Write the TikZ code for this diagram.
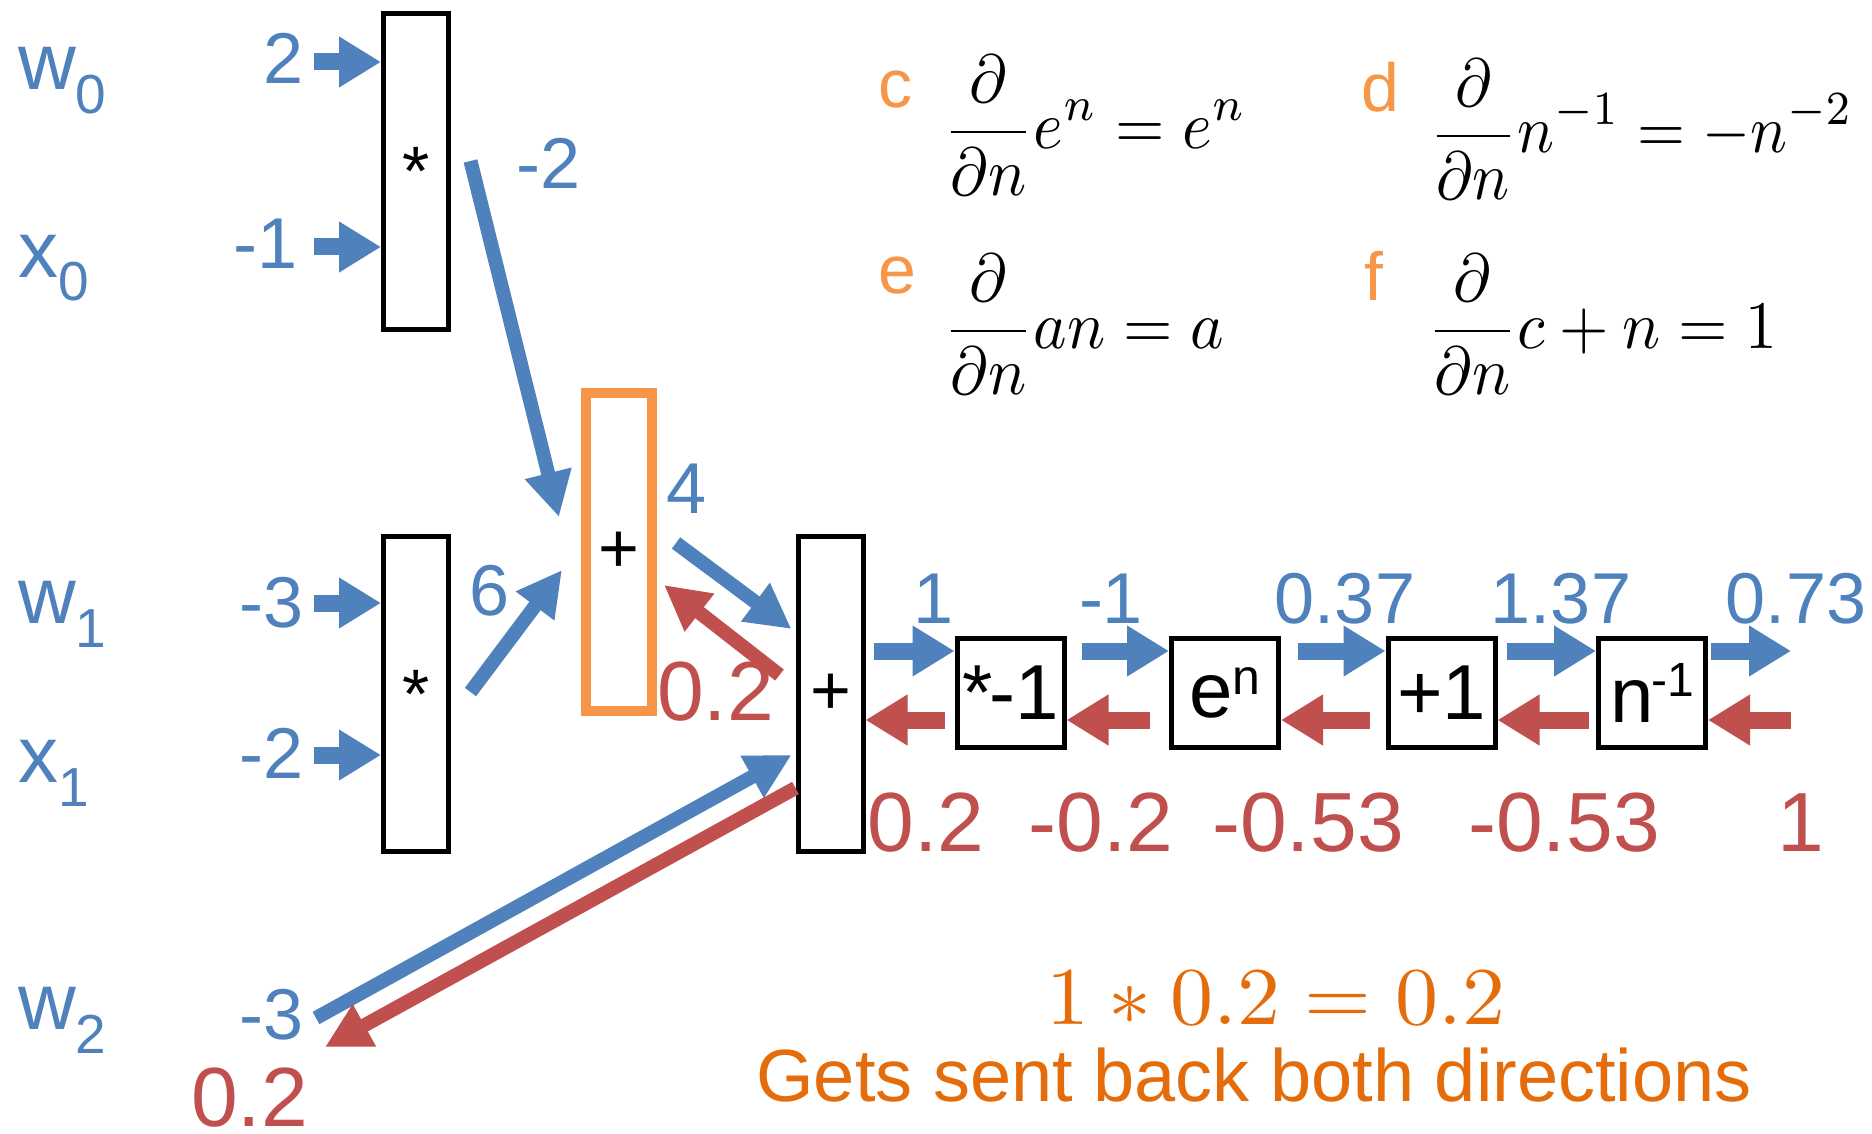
\documentclass[tikz,border=0pt]{standalone}
\usepackage[no-math]{fontspec}
\setmainfont{Liberation Sans}
\usetikzlibrary{arrows.meta,calc}
\definecolor{vblue}{HTML}{4F81BD}
\definecolor{vred}{HTML}{C0504D}
\definecolor{vorange}{HTML}{F79646}
\definecolor{dorange}{HTML}{E46C0A}
\newcommand{\fs}[1]{\fontsize{#1}{#1}\selectfont}
\newcommand{\varlab}[2]{\fs{80}#1\raisebox{-24pt}{\fs{55}#2}}
\begin{document}
\begin{tikzpicture}[x=1pt,y=-1pt,
  opbox/.style={draw=black,line width=5pt,fill=white,inner sep=0pt,font=\fs{70}},
  tallbox/.style={opbox,minimum width=65pt,minimum height=315pt},
  chainbox/.style={opbox,minimum width=107pt,minimum height=109pt,font=\fs{78}},
  fwd/.style={draw=vblue,line width=17pt,-{Triangle[length=42pt,width=48pt]}},
  bwd/.style={draw=vred,line width=17pt,-{Triangle[length=42pt,width=48pt]}},
  dfwd/.style={draw=vblue,line width=14pt,-{Triangle[length=45pt,width=45pt]}},
  dbwd/.style={draw=vred,line width=14pt,-{Triangle[length=45pt,width=45pt]}},
  bval/.style={text=vblue,font=\fs{72},inner sep=0pt},
  rval/.style={text=vred,font=\fs{84},inner sep=0pt},
  var/.style={text=vblue,inner sep=0pt},
  letter/.style={text=vorange,font=\fs{68},inner sep=0pt,anchor=base west},
  formula/.style={text=black,font=\fs{10},inner sep=0pt,anchor=base west,xscale=6.35,yscale=6.8}
]
\useasboundingbox[fill=white] (0,0) rectangle (1872,1134);

% variable names
\node[var,anchor=base west] (w0) at (18,90) {\varlab{w}{0}};
\node[var,anchor=base west] (x0) at (18,277) {\varlab{x}{0}};
\node[var,anchor=base west] (w1) at (18,623) {\varlab{w}{1}};
\node[var,anchor=base west] (x1) at (18,782) {\varlab{x}{1}};
\node[var,anchor=base west] (w2) at (18,1029) {\varlab{w}{2}};

% operation boxes
\node[tallbox] (m0) at (416,171.5) {*};
\node[tallbox] (m1) at (416,694) {*};
\node[tallbox,draw=vorange,line width=10pt,minimum width=66pt,minimum height=318pt] (a0) at (619,552) {+};
\node[tallbox] (a1) at (830.5,694) {+};
\node[chainbox] (neg) at (1010.5,693) {*\kern-0.05em-1};
\node[chainbox] (ex) at (1225,693) {e\raisebox{0.3em}{\fs{50}n}};
\node[chainbox] (p1) at (1441.5,693) {+1};
\node[chainbox] (inv) at (1652,693) {n\kern-0.03em\raisebox{0.33em}{\fs{48}-1}};

% input value labels
\node[bval,anchor=base east] (v2) at (304,84) {2};
\node[bval,anchor=base east] (vm1) at (298,269) {-1};
\node[bval,anchor=base east] (vm3) at (304,627) {-3};
\node[bval,anchor=base east] (vm2) at (304,778) {-2};
\node[bval,anchor=base east] (vm3b) at (304,1039) {-3};
\node[rval,anchor=base west] (g02b) at (191,1126) {0.2};

% input arrows
\coordinate (i0) at (314,62);
\coordinate (i1) at (314,247);
\coordinate (i2) at (314,603);
\coordinate (i3) at (314,755);
\draw[fwd] (i0) -- (i0 -| m0.west);
\draw[fwd] (i1) -- (i1 -| m0.west);
\draw[fwd] (i2) -- (i2 -| m1.west);
\draw[fwd] (i3) -- (i3 -| m1.west);

% diagonal arrows
\draw[dfwd] ($(m0.east)+(19.5,-10.5)$) -- ($(a0.west)+(-22,-35)$);
\draw[dfwd] ($(m1.east)+(19.5,-2)$) -- ($(a0.west)+(-19,18)$);
\draw[dfwd] ($(a0.east)+(19,-9)$) -- ($(a1.west)+(-4,-65)$);
\draw[dbwd] ($(a1.west)+(-16,-19)$) -- ($(a0.east)+(7,33)$);
\coordinate (w2s) at (316,1018);
\coordinate (w2e) at (325,1047);
\draw[dfwd] (w2s) -- ($(a1.west)+(-4,61)$);
\draw[dbwd] ($(a1.west)+(0,94)$) -- (w2e);

\node[bval,anchor=base west] (lm2) at (516,189) {-2};
\node[bval,anchor=base west] (l6) at (469,615) {6};
\node[bval,anchor=base west] (l4) at (666,513) {4};
\node[rval,anchor=base west] (l02) at (657,720) {0.2};

% chain arrows
\coordinate (outf) at (1791,651);
\coordinate (outb) at (1791,720);
\draw[fwd] ($(a1.east |- 0,651)+(8,0)$) -- (neg.west |- 0,651);
\draw[fwd] ($(neg.east |- 0,651)+(15,0)$) -- (ex.west |- 0,651);
\draw[fwd] ($(ex.east |- 0,651)+(17,0)$) -- (p1.west |- 0,651);
\draw[fwd] ($(p1.east |- 0,651)+(9,0)$) -- (inv.west |- 0,651);
\draw[fwd] ($(inv.east |- 0,651)+(3,0)$) -- (outf);
\draw[bwd] (outb) -- (inv.east |- 0,720);
\draw[bwd] ($(inv.west |- 0,720)+(-7,0)$) -- (p1.east |- 0,720);
\draw[bwd] ($(p1.west |- 0,720)+(-16,0)$) -- (ex.east |- 0,720);
\draw[bwd] ($(ex.west |- 0,720)+(-19,0)$) -- (neg.east |- 0,720);
\draw[bwd] ($(neg.west |- 0,720)+(-10,0)$) -- (a1.east |- 0,720);

% chain labels
\node[bval,anchor=base] (c1) at (934,623) {1};
\node[bval,anchor=base] (c2) at (1111,623) {-1};
\node[bval,anchor=base] (c3) at (1345,623) {0.37};
\node[bval,anchor=base] (c4) at (1561,623) {1.37};
\node[bval,anchor=base] (c5) at (1796,623) {0.73};
\node[rval,anchor=base] (r1) at (926,851) {0.2};
\node[rval,anchor=base] (r2) at (1101,851) {-0.2};
\node[rval,anchor=base] (r3) at (1308,851) {-0.53};
\node[rval,anchor=base] (r4) at (1564,851) {-0.53};
\node[rval,anchor=base] (r5) at (1801,851) {1};

% formulas
\node[formula] (ftop) at (1470,-2) {$\partial n$};
\node[letter] (lc) at (878,108) {c};
\node[formula] (fc) at (942,149) {$\displaystyle\frac{\partial}{\partial n}e^{n}=e^{n}$};
\node[letter] (ld) at (1361,112) {d};
\node[formula,xscale=0.97] (fd) at (1428,153) {$\displaystyle\frac{\partial}{\partial n}n^{-1}=-n^{-2}$};
\node[letter] (le) at (878,293) {e};
\node[formula] (fe) at (942,348) {$\displaystyle\frac{\partial}{\partial n}an=a$};
\node[letter] (lf) at (1364,300) {f};
\node[formula] (ff) at (1426,348) {$\displaystyle\frac{\partial}{\partial n}c+n=1$};

% bottom note
\node[text=dorange,font=\fs{10},xscale=8.6,yscale=8.2,inner sep=0pt,anchor=base] (prod) at (1276,1024) {$1*0.2=0.2$};
\node[text=dorange,font=\fs{74},inner sep=0pt,anchor=base] (note) at (1254,1101) {Gets sent back both directions};
\end{tikzpicture}
\end{document}
